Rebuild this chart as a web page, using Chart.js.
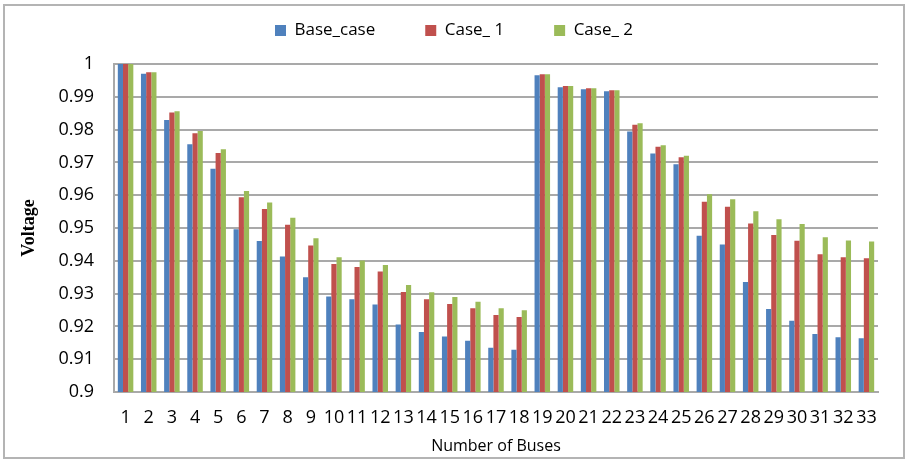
<!DOCTYPE html>
<html lang="en">
<head>
    <meta charset="UTF-8">
    <title>Bus Voltage</title>
    <script src="https://cdn.jsdelivr.net/npm/chart.js@4.4.0/dist/chart.umd.min.js"></script>
    <style>
        body { margin: 0; background: #fff; }
        #wrap { position: relative; width: 908px; height: 461px; }
        #frame { position: absolute; left: 3px; top: 4px; width: 898px; height: 451px; border: 2px solid #b4b4b4; pointer-events: none; }
    </style>
</head>
<body>
    <div id="wrap">
        <canvas id="voltChart" width="908" height="461"></canvas>
        <div id="frame"></div>
    </div>
    <script>
        // bus numbers
        const buses = ['1', '2', '3', '4', '5', '6', '7', '8', '9', '10', '11', '12', '13', '14', '15', '16', '17',
            '18', '19', '20', '21', '22', '23', '24', '25', '26', '27', '28', '29', '30', '31', '32', '33']

        const baseCase = [1.0, 0.9970, 0.9829, 0.9755, 0.9681, 0.9496, 0.9460, 0.9413, 0.9350, 0.9291, 0.9283,
            0.9267, 0.9206, 0.9183, 0.9169, 0.9156, 0.9135, 0.9129, 0.9966, 0.9929, 0.9923, 0.9917, 0.9794,
            0.9727, 0.9694, 0.9476, 0.9450, 0.9335, 0.9253, 0.9217, 0.9177, 0.9167, 0.9164]

        const case1 = [1.0, 0.9975, 0.9852, 0.9789, 0.9729, 0.9594, 0.9558, 0.9510, 0.9447, 0.9390, 0.9381,
            0.9367, 0.9305, 0.9283, 0.9268, 0.9255, 0.9235, 0.9229, 0.9969, 0.9933, 0.9926, 0.9920, 0.9815,
            0.9748, 0.9716, 0.9580, 0.9565, 0.9514, 0.9479, 0.9461, 0.9420, 0.9411, 0.9408]

        const case2 = [1.0, 0.9975, 0.9856, 0.9796, 0.9740, 0.9613, 0.9578, 0.9531, 0.9469, 0.9411, 0.9401,
            0.9387, 0.9326, 0.9304, 0.9290, 0.9275, 0.9255, 0.9249, 0.9969, 0.9933, 0.9926, 0.9920, 0.9819,
            0.9752, 0.9720, 0.9603, 0.9588, 0.9551, 0.9527, 0.9512, 0.9472, 0.9462, 0.9459]

        const yTicks = [0.9, 0.91, 0.92, 0.93, 0.94, 0.95, 0.96, 0.97, 0.98, 0.99, 1]

        const font = "'Open Sans', sans-serif"
        const gridColor = '#a9a9a9'

        new Chart(document.getElementById('voltChart').getContext('2d'), {
            type: 'bar',
            data: {
                labels: buses,
                datasets: [
                    { label: 'Base_case', data: baseCase, backgroundColor: '#4f81bd', xAxisID: 'x', yAxisID: 'y' },
                    { label: 'Case_ 1', data: case1, backgroundColor: '#c0504d', xAxisID: 'x', yAxisID: 'y' },
                    { label: 'Case_ 2', data: case2, backgroundColor: '#9bbb59', xAxisID: 'x', yAxisID: 'y' }
                ]
            },
            options: {
                responsive: false,
                animation: false,
                // top padding is negative so the wide legend spacing doesn't push the plot down
                layout: { padding: { left: 18, right: 18, top: -28, bottom: 5 } },
                datasets: {
                    bar: { categoryPercentage: 0.67, barPercentage: 1, borderWidth: 0 }
                },
                plugins: {
                    tooltip: { enabled: false },
                    legend: {
                        position: 'top',
                        labels: {
                            boxWidth: 11,
                            boxHeight: 11,
                            padding: 50,
                            color: '#000',
                            font: { family: font, size: 17 }
                        }
                    }
                },
                scales: {
                    x: {
                        grid: { display: false, drawTicks: false },
                        border: { color: gridColor, width: 2 },
                        ticks: {
                            autoSkip: false,
                            maxRotation: 0,
                            padding: 15,
                            color: '#000',
                            font: { family: font, size: 18 }
                        },
                        title: {
                            display: true,
                            text: 'Number of Buses',
                            color: '#000',
                            padding: { top: 0, bottom: 0 },
                            font: { family: font, size: 16 }
                        },
                        afterFit: s => { s.height = 64 }
                    },
                    y: {
                        min: 0.9,
                        max: 1,
                        afterBuildTicks: s => { s.ticks = yTicks.map(v => ({ value: v })) },
                        grid: { color: gridColor, lineWidth: 2, drawTicks: false },
                        border: { color: gridColor, width: 2 },
                        ticks: {
                            padding: 20,
                            color: '#000',
                            font: { family: font, size: 18 },
                            callback: v => String(Math.round(v * 100) / 100)
                        },
                        title: {
                            display: true,
                            text: 'Voltage',
                            color: '#000',
                            padding: { top: 1, bottom: 0 },
                            font: { family: "'Liberation Serif', serif", size: 18, weight: 'bold' }
                        },
                        afterFit: s => { s.width = 96 }
                    },
                    // empty axes used only as spacers
                    spacer: {
                        type: 'category',
                        position: 'top',
                        labels: buses,
                        ticks: { display: false },
                        grid: { display: false },
                        border: { display: false },
                        afterFit: s => { s.height = 15 }
                    },
                    yr: {
                        type: 'linear',
                        position: 'right',
                        ticks: { display: false },
                        grid: { display: false },
                        border: { display: false },
                        afterFit: s => { s.width = 12 }
                    }
                }
            }
        })
    </script>
</body>
</html>
